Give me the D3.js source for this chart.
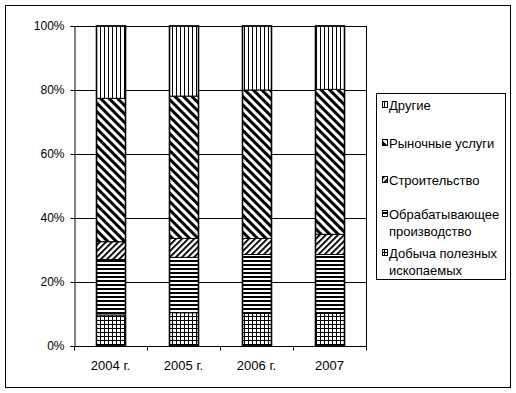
<!DOCTYPE html>
<html><head><meta charset="utf-8">
<script src="https://cdn.jsdelivr.net/npm/d3@7"></script>
<style>body{margin:0;background:#fff}svg{display:block}text{font-family:"Liberation Sans",Arial,sans-serif;font-size:13px;fill:#000}</style>
</head><body>
<script>
const categories = ["2004 г.", "2005 г.", "2006 г.", "2007"];
const seriesNames = ["Добыча полезных ископаемых", "Обрабатывающее производство", "Строительство", "Рыночные услуги", "Другие"];
const mining = [9.7, 10.4, 10.2, 10.2];
const manufacturing = [17.3, 17.3, 18.4, 18.4];
const construction = [5.6, 5.9, 5.0, 6.3];
const marketServices = [44.8, 44.5, 46.4, 45.3];
const other = [22.6, 21.9, 20.0, 19.8];
const yTicks = [0, 20, 40, 60, 80, 100];
const legendLines = [["Другие"], ["Рыночные услуги"], ["Строительство"], ["Обрабатывающее", "производство"], ["Добыча полезных", "ископаемых"]];

const series = [mining, manufacturing, construction, marketServices, other];
const W = 516, H = 393;
const svg = d3.select("body").append("svg").attr("width", W).attr("height", H);
const defs = svg.append("defs");

function pat(id, w, h, draw, transform) {
  const p = defs.append("pattern").attr("id", id).attr("patternUnits", "userSpaceOnUse")
    .attr("width", w).attr("height", h);
  if (transform) p.attr("patternTransform", transform);
  p.append("rect").attr("width", w).attr("height", h).attr("fill", "#fff");
  draw(p);
}
pat("p0", 4, 4, p => {
  p.append("rect").attr("x", 0).attr("y", 0).attr("width", 4).attr("height", 1).attr("fill", "#000");
  p.append("rect").attr("x", 0).attr("y", 0).attr("width", 1).attr("height", 4).attr("fill", "#000");
});
pat("p1", 4, 4, p => p.append("rect").attr("width", 4).attr("height", 2).attr("fill", "#000"));
pat("p2", 4.3, 4.3, p => p.append("rect").attr("width", 1.9).attr("height", 4.3).attr("fill", "#000"), "rotate(45)");
pat("p3", 6, 6, p => p.append("rect").attr("width", 3).attr("height", 6).attr("fill", "#000"), "rotate(-45)");
pat("p4", 4, 4, p => p.append("rect").attr("x", 0).attr("width", 1).attr("height", 4).attr("fill", "#000"));

// outer border
svg.append("rect").attr("x", 5.5).attr("y", 5.5).attr("width", 505).attr("height", 382)
  .attr("fill", "none").attr("stroke", "#000");

const x0 = 74, x1 = 366, yTop = 26, yBot = 346;
const x = d3.scaleBand().domain(categories).range([x0, x1]).paddingInner(0.6).paddingOuter(0.3);
const y = d3.scaleLinear().domain([0, 100]).range([yBot, yTop]);

// gridlines
svg.append("g").selectAll("line").data(yTicks.filter(d => d > 0)).join("line")
  .attr("x1", x0).attr("x2", x1).attr("y1", d => Math.round(y(d)) + 0.5).attr("y2", d => Math.round(y(d)) + 0.5)
  .attr("stroke", "#000");
// plot right border
svg.append("line").attr("x1", x1 + 0.5).attr("x2", x1 + 0.5).attr("y1", yTop).attr("y2", yBot).attr("stroke", "#000");

// bars
const stackData = categories.map((c, i) => {
  let acc = 0;
  return series.map((s, k) => { const y0v = acc; acc += s[i]; return { c, k, y0: y0v, y1: acc }; });
});
const barG = svg.append("g").selectAll("g").data(stackData).join("g");
barG.selectAll("rect").data(d => d).join("rect")
  .attr("x", d => Math.round(x(d.c)) + 0.5)
  .attr("width", Math.round(x.bandwidth()))
  .attr("y", d => y(Math.min(d.y1, 100)))
  .attr("height", d => y(d.y0) - y(Math.min(d.y1, 100)))
  .attr("fill", d => `url(#p${d.k})`)
  .attr("stroke", "#000").attr("stroke-width", 1);
// thicker bar sides
barG.append("rect")
  .attr("x", d => Math.round(x(d[0].c)) + 0.5)
  .attr("width", Math.round(x.bandwidth()))
  .attr("y", yTop).attr("height", yBot - yTop)
  .attr("fill", "none").attr("stroke", "#000").attr("stroke-width", 1.6);

// y axis
const yAxis = svg.append("g").attr("transform", `translate(${x0 + 0.5},0)`)
  .call(d3.axisLeft(y).tickValues(yTicks).tickSize(4).tickPadding(6).tickFormat(d => d + "%"));
yAxis.selectAll("path,line").attr("stroke", "#000");
yAxis.selectAll("text").style("font-family", '"Liberation Sans",Arial,sans-serif').style("font-size", "12px").attr("fill", "#000");

// x axis
const xAxisG = svg.append("g").attr("transform", `translate(0,${yBot + 0.5})`);
xAxisG.append("line").attr("x1", x0).attr("x2", x1 + 1).attr("stroke", "#000");
const bounds = [x0].concat(categories.map(c => x(c) + x.bandwidth() + x.step() * 0.3));
xAxisG.selectAll("line.t").data(bounds).join("line").attr("class", "t")
  .attr("x1", d => Math.round(d) + 0.5).attr("x2", d => Math.round(d) + 0.5).attr("y1", 0).attr("y2", 4).attr("stroke", "#000");
xAxisG.selectAll("text").data(categories).join("text")
  .attr("x", d => x(d) + x.bandwidth() / 2).attr("y", 23).attr("text-anchor", "middle").text(d => d);

// legend
const lg = svg.append("g");
lg.append("rect").attr("x", 376.5).attr("y", 93.5).attr("width", 129).attr("height", 186).attr("fill", "#fff").attr("stroke", "#000");
const itemY = [105, 143, 180, 214, 253];
legendLines.forEach((lines, i) => {
  const k = 4 - i;
  lg.append("rect").attr("x", 382.5).attr("y", itemY[i] - 3.5).attr("width", 5).attr("height", 6)
    .attr("fill", `url(#p${k})`).attr("stroke", "#000");
  lines.forEach((t, j) => {
    lg.append("text").attr("x", 389).attr("y", itemY[i] + 5 + j * 17).text(t);
  });
});
</script>
</body></html>
